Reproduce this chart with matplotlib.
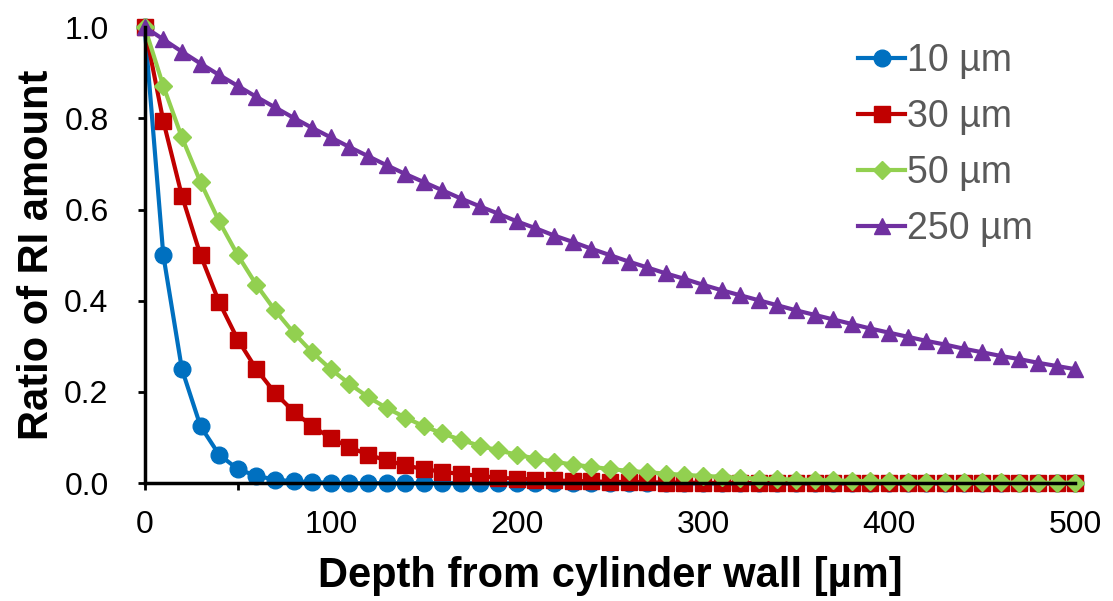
import matplotlib
matplotlib.use("Agg")
import matplotlib.pyplot as plt

plt.rcParams["font.family"] = ["Liberation Sans", "DejaVu Sans"]

# depth [µm], one point every 10 µm
depth = list(range(0, 510, 10))

# ratio, per half-value thickness
r10 = [1.0, 0.5, 0.25, 0.125, 0.0625, 0.031, 0.016, 0.008, 0.004, 0.002,
       0.001] + [0.0] * 40
r30 = [1.0, 0.794, 0.630, 0.5, 0.397, 0.315, 0.25, 0.198, 0.157, 0.125,
       0.099, 0.079, 0.0625, 0.050, 0.039, 0.031, 0.025, 0.020, 0.016, 0.012,
       0.010, 0.008, 0.006, 0.005, 0.004, 0.003, 0.0025, 0.002, 0.0015, 0.001,
       0.001] + [0.0] * 20
r50 = [1.0, 0.871, 0.758, 0.660, 0.574, 0.5, 0.435, 0.379, 0.330, 0.287,
       0.25, 0.218, 0.189, 0.165, 0.144, 0.125, 0.109, 0.095, 0.082, 0.072,
       0.0625, 0.054, 0.047, 0.041, 0.036, 0.031, 0.027, 0.024, 0.021, 0.018,
       0.016, 0.014, 0.012, 0.010, 0.009, 0.008, 0.007, 0.006, 0.005, 0.004,
       0.004, 0.003, 0.003, 0.002, 0.002, 0.002, 0.002, 0.001, 0.001, 0.001,
       0.001]
r250 = [1.0, 0.973, 0.946, 0.920, 0.895, 0.871, 0.847, 0.824, 0.801, 0.779,
        0.758, 0.737, 0.717, 0.697, 0.678, 0.660, 0.642, 0.624, 0.607, 0.591,
        0.574, 0.559, 0.543, 0.529, 0.514, 0.5, 0.486, 0.473, 0.460, 0.448,
        0.435, 0.423, 0.412, 0.401, 0.390, 0.379, 0.369, 0.359, 0.349, 0.339,
        0.330, 0.321, 0.312, 0.304, 0.295, 0.287, 0.279, 0.272, 0.264, 0.257,
        0.25]

fig = plt.figure(figsize=(11.13, 6.01), dpi=100)
ax = fig.add_axes([0.130, 0.196, 0.836, 0.759])

ax.plot(depth, r10, color="#0070C0", marker="o", ms=12, lw=3, label="10 µm", clip_on=False)
ax.plot(depth, r30, color="#C00000", marker="s", ms=12, lw=3, label="30 µm", clip_on=False)
ax.plot(depth, r50, color="#92D050", marker="D", ms=9, lw=3, label="50 µm", clip_on=False)
ax.plot(depth, r250, color="#7030A0", marker="^", ms=12, lw=3, label="250 µm", clip_on=False)

ax.set_xlim(0, 500)
ax.set_ylim(0, 1.0)
ax.set_xticks(range(0, 501, 100))
ax.set_xticks(range(0, 501, 50), minor=True)
ax.set_yticks([0, 0.2, 0.4, 0.6, 0.8, 1.0])
ax.set_yticklabels(["0.0", "0.2", "0.4", "0.6", "0.8", "1.0"])
ax.tick_params(axis="both", which="both", direction="out", length=5, width=2,
               labelsize=23, colors="black")
ax.tick_params(axis="x", which="both", pad=14)
ax.tick_params(axis="y", which="both", pad=21)

for s in ["top", "right"]:
    ax.spines[s].set_visible(False)
for s in ["left", "bottom"]:
    ax.spines[s].set_linewidth(2.5)
    ax.spines[s].set_color("black")

ax.set_xlabel("Depth from cylinder wall [µm]", fontsize=30, fontweight="bold", labelpad=12)
ax.set_ylabel("Ratio of RI amount", fontsize=30, fontweight="bold", labelpad=5)

leg = ax.legend(loc="upper left", bbox_to_anchor=(0.767, 0.965), frameon=False,
                fontsize=27, handlelength=1.25, handletextpad=0.05, labelspacing=0.53,
                borderpad=0, borderaxespad=0, labelcolor="#595959")

fig.savefig("out.png", dpi=100)
